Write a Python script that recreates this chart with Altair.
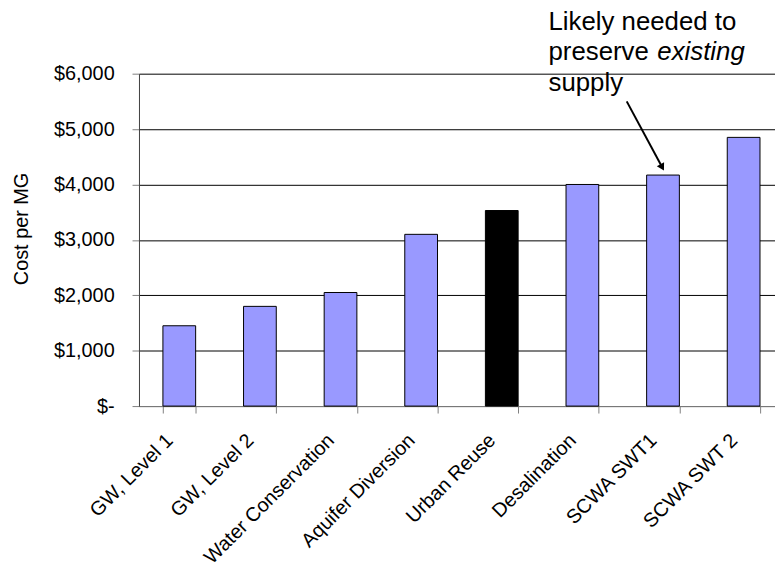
import altair as alt
import pandas as pd

FONT = "Liberation Sans"

categories = ["GW, Level 1", "GW, Level 2", "Water Conservation", "Aquifer Diversion",
              "Urban Reuse", "Desalination", "SCWA SWT1", "SCWA SWT 2"]
costs = [1450, 1800, 2050, 3100, 3530, 4000, 4170, 4850]
highlight = ["no", "no", "no", "no", "yes", "no", "no", "no"]

y_ticks = [0, 1000, 2000, 3000, 4000, 5000, 6000]

# annotation (x in category units, y in $ per MG)
note_text = ["Likely needed to", "preserve", "existing", "supply"]
note_x = [5.08, 5.08, 6.43, 5.08]
note_y = [6797, 6251, 6251, 5696]
note_style = ["normal", "normal", "italic", "normal"]

arrow_x = [6.05, 6.49]
arrow_y = [5500, 4310]

bars_df = pd.DataFrame({"category": categories, "cost": costs, "hl": highlight})
notes_df = pd.DataFrame({"t": note_text, "u": note_x, "v": note_y, "s": note_style})
arrow_df = pd.DataFrame({"u0": [arrow_x[0]], "u1": [arrow_x[1]],
                         "v0": [arrow_y[0]], "v1": [arrow_y[1]]})

RANGE = [0, 650]

bars = alt.Chart(bars_df).mark_bar(stroke="black", strokeWidth=1).encode(
    x=alt.X("category:N", sort=categories,
            scale=alt.Scale(range=RANGE, paddingInner=0.594, paddingOuter=0.297),
            axis=alt.Axis(title=None, labelAngle=315, labelAlign="right",
                          labelBaseline="top", labelFont=FONT, labelFontSize=20,
                          labelColor="black", labelPadding=17, labelOffset=-17,
                          labelLimit=400, tickBand="extent", tickSize=7,
                          tickColor="#808080", domainColor="#808080", grid=False)),
    y=alt.Y("cost:Q", scale=alt.Scale(domain=[0, 6000], nice=False),
            axis=alt.Axis(values=y_ticks,
                          labelExpr="datum.value == 0 ? '$-\u00a0\u00a0\u00a0\u00a0' : '$' + format(datum.value, ',')",
                          labelFont=FONT, labelFontSize=20, labelColor="black",
                          labelPadding=18, tickSize=7, tickColor="#808080",
                          domainColor="#404040", grid=True, gridColor="black",
                          gridWidth=1, title="Cost per MG", titleFont=FONT,
                          titleFontSize=20, titleFontWeight="normal",
                          titleColor="black", titleAngle=270, titleX=-118,
                          titleY=156, titleAlign="center", titleBaseline="middle")),
    color=alt.Color("hl:N", scale=alt.Scale(domain=["no", "yes"],
                                             range=["#9999FF", "#000000"]),
                    legend=None),
)

ux = alt.Scale(domain=[0, 8], range=RANGE)
vy = alt.Scale(domain=[0, 6000], nice=False)

text_normal = alt.Chart(notes_df).transform_filter("datum.s == 'normal'").mark_text(
    align="left", baseline="alphabetic", font=FONT, fontSize=26, color="black"
).encode(
    x=alt.X("u:Q", scale=ux, axis=None),
    y=alt.Y("v:Q", scale=vy, axis=None),
    text="t:N",
)

text_italic = alt.Chart(notes_df).transform_filter("datum.s == 'italic'").mark_text(
    align="left", baseline="alphabetic", font=FONT, fontSize=26, fontStyle="italic",
    color="black"
).encode(
    x=alt.X("u:Q", scale=ux, axis=None),
    y=alt.Y("v:Q", scale=vy, axis=None),
    text="t:N",
)

arrow_line = alt.Chart(arrow_df).mark_rule(color="black", strokeWidth=2).encode(
    x=alt.X("u0:Q", scale=ux, axis=None),
    x2="u1:Q",
    y=alt.Y("v0:Q", scale=vy, axis=None),
    y2="v1:Q",
)

arrow_head = alt.Chart(arrow_df).mark_point(
    shape="triangle-down", filled=True, size=70, color="black", opacity=1, angle=331
).encode(
    x=alt.X("u1:Q", scale=ux, axis=None),
    y=alt.Y("v1:Q", scale=vy, axis=None),
)

chart = alt.layer(bars, text_normal, text_italic, arrow_line, arrow_head).resolve_scale(
    x="independent", y="independent"
).properties(
    width=641, height=335,
    padding={"left": 132, "top": 64, "right": 0, "bottom": 162},
    autosize=alt.AutoSizeParams(type="none"),
    background="white",
).configure_view(stroke=None)

chart.save("out.html", embed_options={"renderer": "svg", "actions": False})
